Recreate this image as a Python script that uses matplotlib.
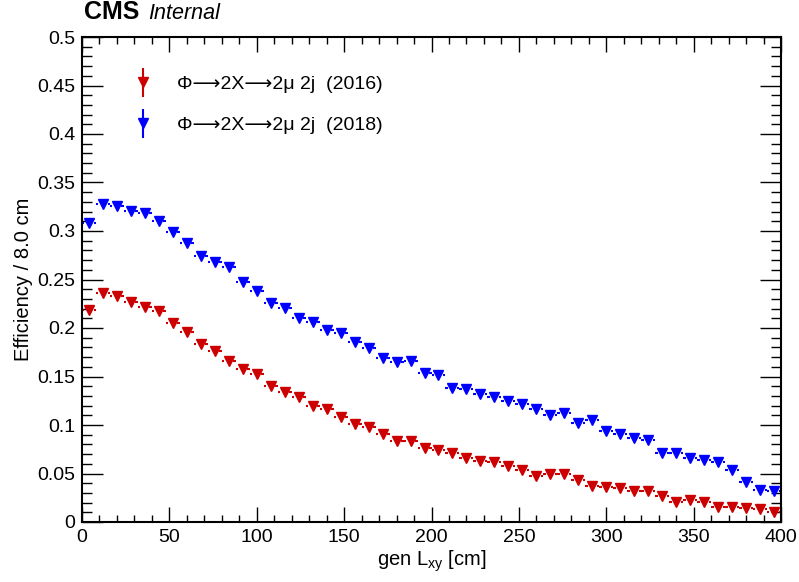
import numpy as np
import matplotlib
matplotlib.use("Agg")
import matplotlib.pyplot as plt
from matplotlib.ticker import MultipleLocator
from matplotlib.legend_handler import HandlerErrorbar

plt.rcParams['font.family'] = ['Liberation Sans', 'DejaVu Sans']

bin_width = 8.0
bin_centers = np.arange(4, 400, bin_width)

eff_2016 = [0.2186, 0.2357, 0.2333, 0.2268, 0.2220, 0.2175, 0.2055, 0.1955, 0.1830, 0.1760,
            0.1657, 0.1577, 0.1526, 0.1405, 0.1343, 0.1292, 0.1196, 0.1162, 0.1079, 0.1007,
            0.0979, 0.0904, 0.0835, 0.0838, 0.0766, 0.0745, 0.0714, 0.0656, 0.0632, 0.0615,
            0.0577, 0.0536, 0.0470, 0.0491, 0.0491, 0.0433, 0.0374, 0.0364, 0.0347, 0.0322,
            0.0320, 0.0265, 0.0203, 0.0230, 0.0206, 0.0155, 0.0158, 0.0144, 0.0137, 0.0100]

eff_2018 = [0.3080, 0.3275, 0.3260, 0.3210, 0.3190, 0.3100, 0.2990, 0.2880, 0.2745, 0.2680,
            0.2625, 0.2470, 0.2380, 0.2260, 0.2210, 0.2100, 0.2060, 0.1976, 0.1948, 0.1856,
            0.1797, 0.1694, 0.1646, 0.1656, 0.1540, 0.1520, 0.1385, 0.1370, 0.1316, 0.1285,
            0.1250, 0.1213, 0.1168, 0.1103, 0.1120, 0.1024, 0.1048, 0.0938, 0.0904, 0.0866,
            0.0845, 0.0714, 0.0708, 0.0656, 0.0643, 0.0615, 0.0533, 0.0416, 0.0330, 0.0320]

series = [
    (eff_2016, '#cc0000', 'Φ⟶2X⟶2μ 2j  (2016)'),
    (eff_2018, '#0000ff', 'Φ⟶2X⟶2μ 2j  (2018)'),
]

fig = plt.figure(figsize=(7.99, 5.82), dpi=100)
ax = fig.add_axes([82 / 799, 1 - 522 / 582, 699 / 799, 485 / 582])

half = bin_width / 2
gap = 2.6
handles = []
for vals, col, lab in series:
    vals = np.array(vals)
    # horizontal bin-width bars with a gap around the marker
    ax.hlines(vals, bin_centers - half, bin_centers - gap, colors=col, linewidth=1.5)
    ax.hlines(vals, bin_centers + gap, bin_centers + half, colors=col, linewidth=1.5)
    h = ax.errorbar(bin_centers, vals, yerr=0.0012, fmt='v', color=col, ecolor=col,
                    markersize=6.5, elinewidth=1.5, capsize=0, label=lab)
    handles.append(h)

ax.set_xlim(0, 400)
ax.set_ylim(0, 0.5)

ax.xaxis.set_major_locator(MultipleLocator(50))
ax.xaxis.set_minor_locator(MultipleLocator(10))
ax.yaxis.set_major_locator(MultipleLocator(0.05))
ax.yaxis.set_minor_locator(MultipleLocator(0.01))
ax.set_yticks(np.arange(0, 0.501, 0.05))
ax.set_yticklabels(['0', '0.05', '0.1', '0.15', '0.2', '0.25', '0.3', '0.35', '0.4', '0.45', '0.5'])

ax.tick_params(axis='both', which='both', direction='in', top=True, right=True, labelsize=14, width=1)
ax.tick_params(axis='x', which='major', length=11, pad=5)
ax.tick_params(axis='x', which='minor', length=5)
ax.tick_params(axis='y', which='major', length=15, pad=5)
ax.tick_params(axis='y', which='minor', length=7)
for s in ax.spines.values():
    s.set_linewidth(1.5)

ax.set_xlabel('gen L$_{\\mathregular{xy}}$ [cm]', fontsize=14.5, labelpad=2)
ax.set_ylabel('Efficiency / 8.0 cm', fontsize=14.5, labelpad=3)

fig.text(84 / 799, 1 - 19 / 582, 'CMS', fontsize=18, fontweight='bold', ha='left', va='baseline')
fig.text(148 / 799, 1 - 19 / 582, 'Internal', fontsize=15.5, fontstyle='italic', ha='left', va='baseline')

ax.legend(handles=handles, loc='upper left', bbox_to_anchor=(0.035, 0.957), frameon=False,
          fontsize=14, labelspacing=1.2, handlelength=2.0, handletextpad=0.75,
          handler_map={type(handles[0]): HandlerErrorbar(xerr_size=0.5, yerr_size=0.75)})

fig.savefig('out.png', dpi=100)
